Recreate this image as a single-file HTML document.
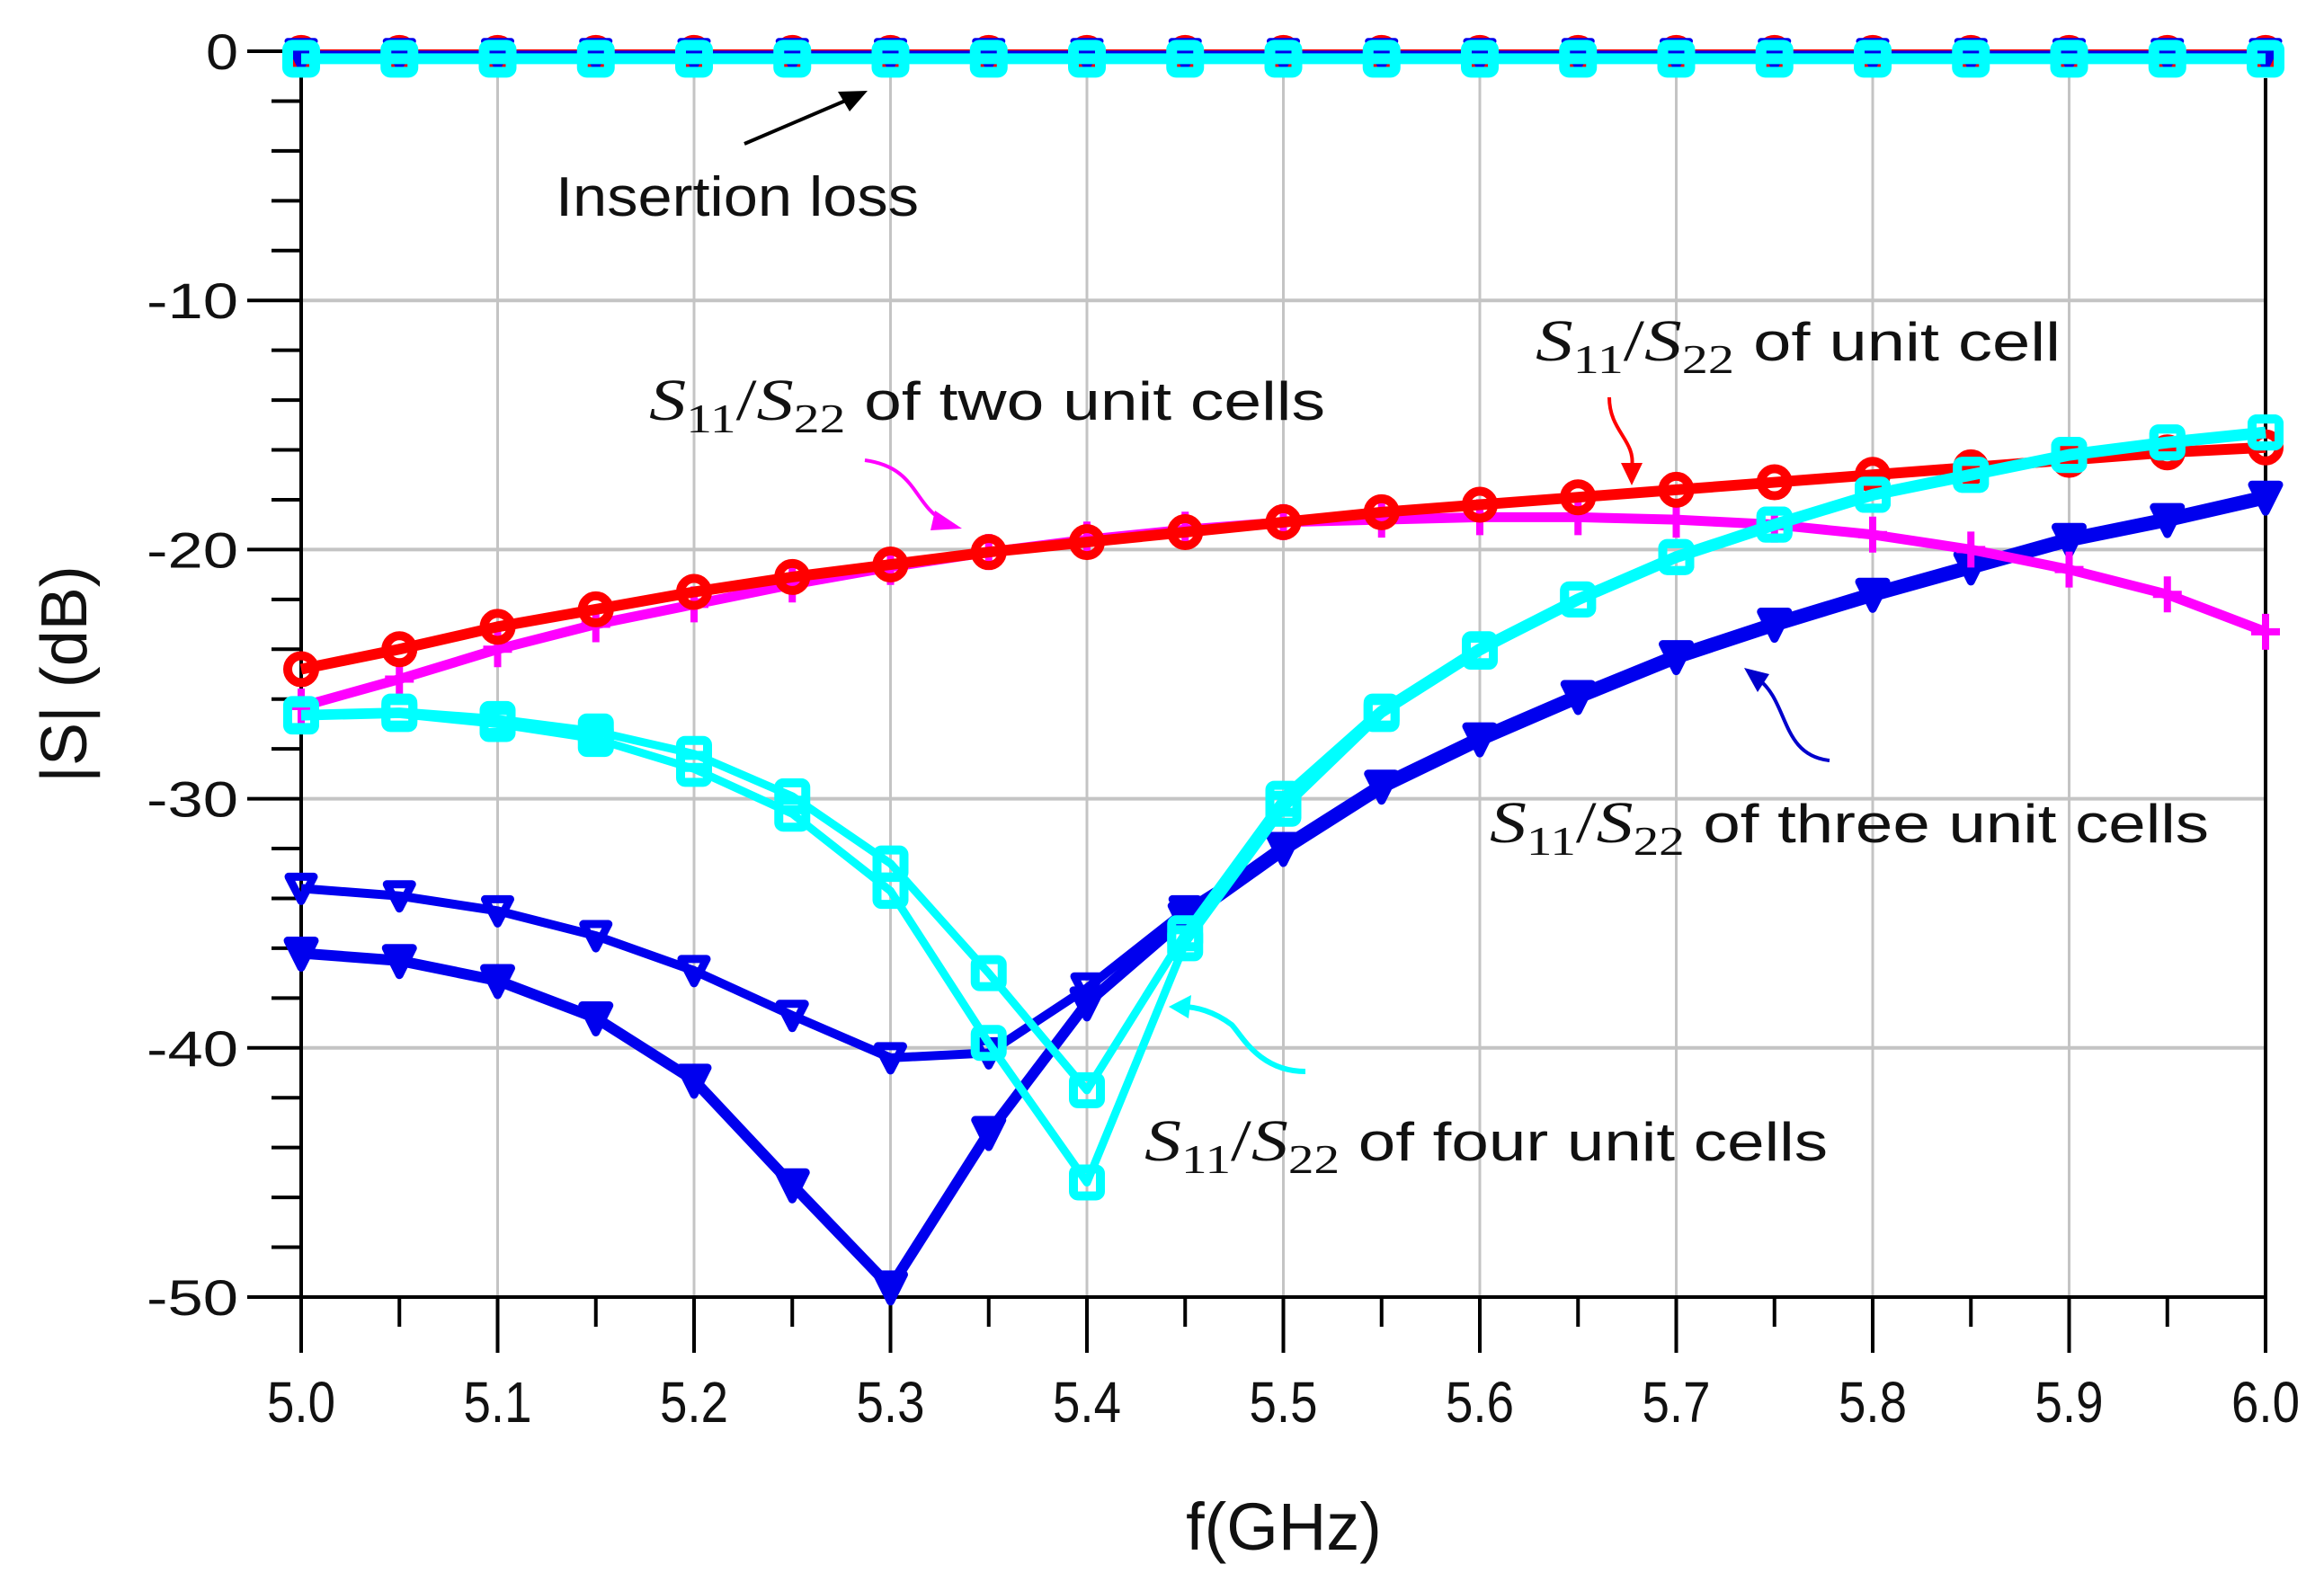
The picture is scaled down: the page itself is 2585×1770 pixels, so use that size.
<!DOCTYPE html>
<html><head><meta charset="utf-8"><style>
html,body{margin:0;padding:0;background:#fff;}
svg{display:block;}
</style></head><body>
<svg id="chart" width="2585" height="1770" viewBox="0 0 2585 1770" xmlns="http://www.w3.org/2000/svg"></svg>
<script>
const freqs = [5.0,5.05,5.1,5.15,5.2,5.25,5.3,5.35,5.4,5.45,5.5,5.55,5.6,5.65,5.7,5.75,5.8,5.85,5.9,5.95,6.0];
const unitCell = [-24.8,-24.0,-23.1,-22.4,-21.7,-21.1,-20.6,-20.1,-19.7,-19.3,-18.9,-18.5,-18.2,-17.9,-17.6,-17.3,-17.0,-16.7,-16.4,-16.1,-15.9];
const twoCells = [-26.3,-25.2,-24.0,-23.0,-22.2,-21.4,-20.7,-20.1,-19.6,-19.2,-18.9,-18.8,-18.7,-18.7,-18.8,-19.0,-19.4,-20.0,-20.8,-21.8,-23.3];
const threeCellsA = [-33.6,-33.9,-34.5,-35.5,-36.9,-38.7,-40.4,-40.2,-37.6,-34.5,-32.0,-29.5,-27.6,-25.9,-24.3,-23.0,-21.8,-20.7,-19.6,-18.8,-17.9];
const threeCellsB = [-36.2,-36.5,-37.3,-38.8,-41.3,-45.5,-49.6,-43.4,-38.2,-34.8,-32.0,-29.5,-27.6,-25.9,-24.3,-23.0,-21.8,-20.7,-19.6,-18.8,-17.9];
const fourCellsA = [-26.6,-26.5,-26.8,-27.3,-28.2,-29.9,-32.6,-37.0,-41.7,-35.4,-30.0,-26.5,-24.0,-22.0,-20.3,-19.0,-17.8,-17.0,-16.2,-15.7,-15.3];
const fourCellsB = [-26.7,-26.6,-27.0,-27.6,-28.8,-30.6,-33.7,-39.8,-45.4,-35.8,-30.4,-26.6,-24.1,-22.0,-20.3,-19.0,-17.8,-17.0,-16.2,-15.7,-15.3];
const insRed = [-0.05,-0.05,-0.05,-0.05,-0.05,-0.05,-0.05,-0.05,-0.05,-0.05,-0.05,-0.05,-0.05,-0.05,-0.05,-0.05,-0.05,-0.05,-0.05,-0.05,-0.05];
const insBlue = [-0.1,-0.1,-0.1,-0.1,-0.1,-0.1,-0.1,-0.1,-0.1,-0.1,-0.1,-0.1,-0.1,-0.1,-0.1,-0.1,-0.1,-0.1,-0.1,-0.1,-0.1];
const insCyan = [-0.3,-0.3,-0.3,-0.3,-0.3,-0.3,-0.3,-0.3,-0.3,-0.3,-0.3,-0.3,-0.3,-0.3,-0.3,-0.3,-0.3,-0.3,-0.3,-0.3,-0.3];
const xTickLabels = ["5.0","5.1","5.2","5.3","5.4","5.5","5.6","5.7","5.8","5.9","6.0"];
const yTickLabels = ["0","-10","-20","-30","-40","-50"];

const NS="http://www.w3.org/2000/svg";
const svg=document.getElementById('chart');
const X0=335,X1=2520,Y0=57,Y1=1443;
function sx(f){return X0+(f-5.0)/(1.0)*(X1-X0);}
function sy(v){return Y0+(0-v)/50*(Y1-Y0);}
function mk(tag,attrs,parent){const e=document.createElementNS(NS,tag);for(const k in attrs)e.setAttribute(k,attrs[k]);(parent||svg).appendChild(e);return e;}

const grid=mk('g',{});


for(let i=1;i<=10;i++){const f=5+i*0.1;mk('line',{x1:sx(f),x2:sx(f),y1:Y0,y2:Y1,stroke:'#c4c4c4','stroke-width':3},grid);}
for(let v=-10;v>=-40;v-=10){mk('line',{x1:X0,x2:X1,y1:sy(v),y2:sy(v),stroke:'#c4c4c4','stroke-width':4},grid);}
const axes=mk('g',{stroke:'#000','stroke-width':4});


mk('line',{x1:X0,x2:X0,y1:Y0,y2:Y1+2},axes);
mk('line',{x1:X0,x2:X1,y1:Y1,y2:Y1},axes);
mk('line',{x1:X1,x2:X1,y1:Y0+30,y2:Y1},axes);
for(let v=0;v>=-50;v-=2){const major=(v%10===0);mk('line',{x1:major?X0-60:X0-33,x2:X0,y1:sy(v),y2:sy(v)},axes);}
for(let i=0;i<=20;i++){const f=5+i*0.05;const major=(i%2===0);mk('line',{x1:sx(f),x2:sx(f),y1:Y1,y2:major?Y1+62:Y1+33},axes);}
yTickLabels.forEach((t,i)=>{const e=mk('text',{x:265,y:sy(-10*i)+20,'text-anchor':'end','font-family':'Liberation Sans, sans-serif','font-size':56,fill:'#111',textLength:t.length>1?102:36,lengthAdjust:'spacingAndGlyphs'});e.textContent=t;

});
xTickLabels.forEach((t,i)=>{const e=mk('text',{x:sx(5+i*0.1)-38,y:1582,'font-family':'Liberation Sans, sans-serif','font-size':64,fill:'#111',textLength:76,lengthAdjust:'spacingAndGlyphs'});e.textContent=t;

});
let t=mk('text',{x:0,y:0,transform:'translate(96,750) rotate(-90)','text-anchor':'middle','font-family':'Liberation Sans, sans-serif','font-size':72,fill:'#111'});t.textContent='|S| (dB)';


t=mk('text',{x:1428,y:1724,'text-anchor':'middle','font-family':'Liberation Sans, sans-serif','font-size':74,fill:'#111'});t.textContent='f(GHz)';



function marker(g,type,x,y,color,sw){
  if(type==='circle')mk('circle',{cx:x,cy:y,r:15,fill:'none',stroke:color,'stroke-width':sw},g);
  else if(type==='plus'){mk('line',{x1:x-16,x2:x+16,y1:y,y2:y,stroke:color,'stroke-width':sw},g);mk('line',{x1:x,x2:x,y1:y-20,y2:y+20,stroke:color,'stroke-width':sw},g);}
  else if(type==='tri')mk('path',{d:`M${x-15},${y-14} L${x+15},${y-14} L${x},${y+16} Z`,fill:color,stroke:color,'stroke-width':sw,'stroke-linejoin':'round'},g);
  else if(type==='opentri')mk('path',{d:`M${x-14},${y-13} L${x+14},${y-13} L${x},${y+14} Z`,fill:'none',stroke:color,'stroke-width':sw,'stroke-linejoin':'round'},g);
  else if(type==='square')mk('rect',{x:x-15,y:y-15,width:30,height:30,rx:5,fill:'none',stroke:color,'stroke-width':sw},g);
}
function series(name,vals,color,w,type,msw){
  const g=mk('g',{});
  
  
  const pts=vals.map((v,i)=>sx(freqs[i])+','+sy(v)).join(' ');
  mk('polyline',{points:pts,fill:'none',stroke:color,'stroke-width':w,'stroke-linejoin':'round'},g);
  vals.forEach((v,i)=>marker(g,type,sx(freqs[i]),sy(v),color,msw));
}
series('insertion-loss-red',insRed,'#ff0000',7,'circle',9);
series('insertion-loss-blue',insBlue,'#0000ee',7,'tri',7);
series('s11-three-cells-a',threeCellsA,'#0000ee',10,'opentri',9);
series('s11-three-cells-b',threeCellsB,'#0000ee',12,'tri',9);
// thick merged section of three-cell curve
(function(){const g=mk('g',{});


const pts=threeCellsB.map((v,i)=>i>=9?sx(freqs[i])+','+sy(v):null).filter(p=>p).join(' ');
mk('polyline',{points:pts,fill:'none',stroke:'#0000ee','stroke-width':16,'stroke-linejoin':'round'},g);})();
series('s11-two-cells',twoCells,'#ff00ff',11,'plus',8);
series('s11-unit-cell',unitCell,'#ff0000',12,'circle',10);
series('s11-four-cells-a',fourCellsA,'#00ffff',9,'square',10);
series('s11-four-cells-b',fourCellsB,'#00ffff',9,'square',10);
(function(){const g=mk('g',{});


const pts=fourCellsA.map((v,i)=>i>=10?sx(freqs[i])+','+sy(v):null).filter(p=>p).join(' ');
mk('polyline',{points:pts,fill:'none',stroke:'#00ffff','stroke-width':13,'stroke-linejoin':'round'},g);})();
series('insertion-loss-cyan',insCyan,'#00ffff',12,'square',12);

function label(name,x,y,rest,len){
  const tx=mk('text',{x:x,y:y,'font-family':'Liberation Sans, sans-serif','font-size':60,fill:'#111'});
  
  
  tx.innerHTML=`<tspan font-family="Liberation Serif, serif" font-style="italic" font-size="66">S</tspan><tspan font-family="Liberation Serif, serif" font-size="46" dy="14">11</tspan><tspan font-family="Liberation Serif, serif" font-size="66" dy="-14">/</tspan><tspan font-family="Liberation Serif, serif" font-style="italic" font-size="66">S</tspan><tspan font-family="Liberation Serif, serif" font-size="46" dy="14">22</tspan><tspan dy="-14"> ${rest}</tspan>`;
  tx.setAttribute('textLength',len);tx.setAttribute('lengthAdjust','spacingAndGlyphs');
}
t=mk('text',{x:618,y:240,'font-family':'Liberation Sans, sans-serif','font-size':62,fill:'#111',textLength:404,lengthAdjust:'spacingAndGlyphs'});t.textContent='Insertion loss';


label('two-cells-label',722,467,'of two unit cells',752);
label('unit-cell-label',1708,401,'of unit cell',584);
label('three-cells-label',1657,937,'of three unit cells',800);
label('four-cells-label',1273,1291,'of four unit cells',760);
const ar=mk('g',{fill:'none','stroke-width':4});


mk('line',{x1:828,y1:160,x2:945,y2:110,stroke:'#000'},ar);
mk('path',{d:'M965,101 L932,102 L945,124 Z',fill:'#000',stroke:'none'},ar);
mk('path',{d:'M962,512 C1020,520 1015,560 1050,580',stroke:'#ff00ff'},ar);
mk('path',{d:'M1070,588 L1040,568 L1035,590 Z',fill:'#ff00ff',stroke:'none'},ar);
mk('path',{d:'M1790,442 C1790,480 1820,490 1815,520',stroke:'#ff0000'},ar);
mk('path',{d:'M1815,540 L1803,515 L1827,515 Z',fill:'#ff0000',stroke:'none'},ar);
mk('path',{d:'M2035,846 C1980,840 1990,780 1955,755',stroke:'#0000cc'},ar);
mk('path',{d:'M1940,743 L1955,770 L1968,750 Z',fill:'#0000cc',stroke:'none'},ar);
mk('path',{d:'M1452,1192 C1400,1192 1380,1150 1370,1140 C1350,1125 1330,1120 1315,1120',stroke:'#00ffff','stroke-width':6},ar);
mk('path',{d:'M1300,1120 L1325,1107 L1322,1133 Z',fill:'#00ffff',stroke:'none'},ar);
</script>
</body></html>
